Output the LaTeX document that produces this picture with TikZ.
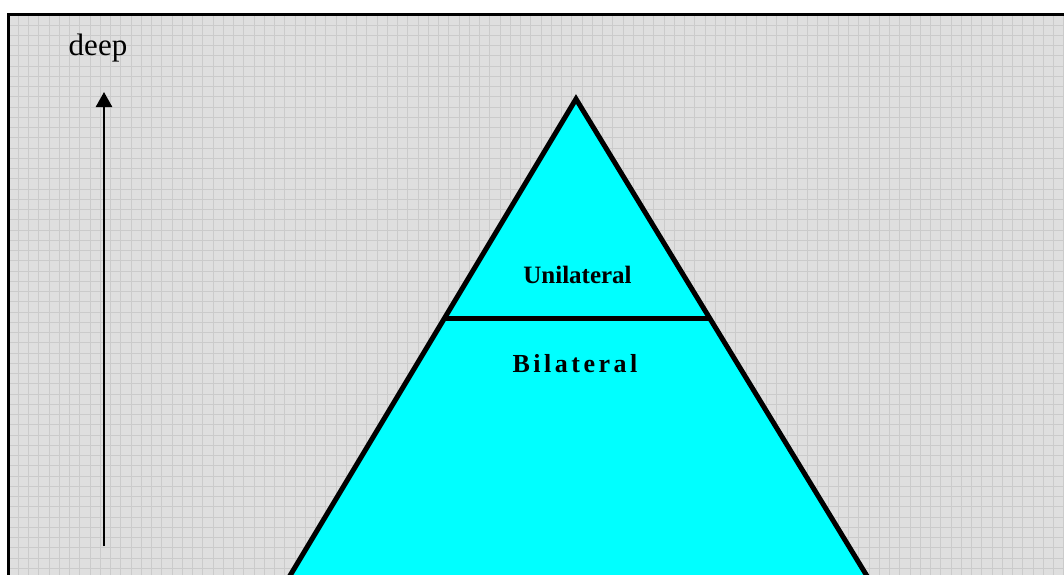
\documentclass[tikz,border=0pt]{standalone}
\usepackage{fontspec}
\setmainfont{Liberation Serif}
\newfontfamily\spacedfont[LetterSpace=13.5]{Liberation Serif}
\usetikzlibrary{arrows.meta}
\definecolor{bggray}{RGB}{223,223,223}
\definecolor{gridgray}{RGB}{203,203,203}
\definecolor{pyrcyan}{RGB}{0,255,255}
\tikzset{
  gridline/.style={draw=gridgray, line width=0.9pt},
  frameline/.style={draw=black, line width=3pt, line join=miter},
  pyramid/.style={fill=pyrcyan, draw=black, line width=5pt, line join=miter},
  divider/.style={draw=black, line width=5pt},
  axisarrow/.style={draw=black, line width=2.5pt, -{Triangle[width=16pt,length=15pt]}},
  lbl/.style={inner sep=0pt, anchor=base, text=black}
}
\begin{document}
\begin{tikzpicture}[x=1pt,y=-1pt]
\useasboundingbox (0,0) rectangle (1064,574);
\fill[white] (0,0) rectangle (1064,574);
\begin{scope}
\clip (0,0) rectangle (1064,574);
\fill[bggray] (8,14.7) rectangle (1070,580);
\foreach \k in {1,...,103} \draw[gridline] ({8+10.25*\k},14.7) -- ({8+10.25*\k},580);
\foreach \k in {1,...,56} \draw[gridline] (8,{14.7+10.25*\k}) -- (1070,{14.7+10.25*\k});
\draw[frameline] (8,600) -- (8,14.7) -- (1080,14.7);
% pyramid
\coordinate (apex) at (576,99);
\coordinate (bl) at (263.4,620);
\coordinate (br) at (893.8,620);
\draw[pyramid] (apex) -- (br) -- (bl) -- cycle;
\coordinate (dl) at (444.6,318);
\coordinate (dr) at (709.6,318);
\draw[divider] (dl) -- (dr);
\end{scope}
% axis arrow
\coordinate (abot) at (104,546);
\coordinate (atop) at (104,92);
\draw[axisarrow] (abot) -- (atop);
% labels
\node[lbl] (deep) at (98,55) {\fontsize{31}{36}\selectfont deep};
\node[lbl] (uni) at (577.5,283) {\fontsize{25}{30}\selectfont\bfseries Unilateral};
\node[lbl] (bi) at (575,372) {\fontsize{26}{31}\selectfont\spacedfont\bfseries Bilateral};
\end{tikzpicture}
\end{document}
